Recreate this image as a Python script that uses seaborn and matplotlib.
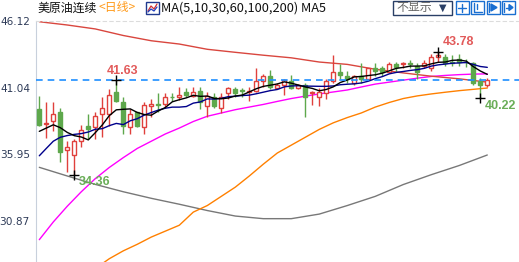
import numpy as np
import pandas as pd
import matplotlib
matplotlib.use("Agg")
import matplotlib.pyplot as plt
from matplotlib.patches import Rectangle
import seaborn as sns

# ---------------- data ----------------
opens = [39.37, 38.27, 38.5, 39.15, 36.3, 35.9, 37.0, 38.1, 38.0, 39.0,
         39.0, 40.7, 39.9, 38.0, 39.15, 38.0, 39.6, 39.8, 39.8, 40.33,
         40.3, 40.7, 40.4, 40.8, 39.6, 40.35, 39.5, 40.6, 40.9, 40.82,
         40.7, 40.8, 41.5, 41.9, 41.0, 41.2, 41.5, 41.0, 41.2, 40.65,
         40.35, 40.65, 41.5, 42.2, 41.95, 41.4, 41.95, 41.7, 42.55, 42.5,
         42.25, 42.85, 42.8, 42.9, 42.7, 42.7, 42.5, 43.4, 43.35, 43.0,
         43.2, 43.0, 42.9, 41.5, 41.25]
highs = [40.43, 39.9, 39.9, 39.5, 37.0, 37.1, 38.2, 39.0, 39.2, 40.3,
         40.9, 41.63, 40.35, 39.4, 39.2, 39.9, 40.2, 40.6, 40.6, 40.6,
         41.1, 41.0, 41.1, 41.1, 40.7, 40.6, 40.6, 41.1, 41.1, 41.0,
         41.1, 42.55, 42.1, 42.4, 41.4, 41.7, 42.0, 41.3, 41.4, 40.8,
         41.0, 41.7, 43.5, 42.8, 42.3, 42.0, 42.9, 42.55, 42.9, 42.7,
         43.0, 43.0, 43.0, 43.1, 42.9, 43.1, 43.6, 43.78, 43.6, 43.5,
         43.6, 43.2, 43.0, 41.8, 41.8]
lows = [38.11, 37.2, 37.7, 35.4, 34.6, 34.36, 36.5, 37.1, 37.1, 37.3,
        38.1, 39.9, 37.5, 37.5, 38.0, 37.5, 38.8, 39.2, 39.5, 40.0,
        40.1, 40.3, 40.3, 39.4, 38.8, 39.5, 39.1, 40.2, 40.3, 40.3,
        40.0, 40.7, 41.1, 40.95, 40.9, 40.5, 40.9, 40.9, 38.8, 39.7,
        39.6, 40.2, 41.4, 41.7, 41.4, 41.25, 41.4, 41.6, 41.9, 41.9,
        42.2, 42.25, 42.55, 42.5, 41.65, 42.5, 42.3, 42.95, 42.65, 42.7,
        42.7, 42.6, 41.25, 40.22, 41.1]
closes = [38.18, 38.31, 39.0, 36.1, 36.5, 36.95, 37.8, 37.9, 38.85, 39.45,
          40.5, 40.0, 38.1, 39.0, 38.1, 39.7, 39.75, 39.72, 40.3, 40.28,
          40.5, 40.45, 40.7, 39.9, 40.4, 39.6, 40.3, 41.0, 40.65, 40.78,
          40.8, 41.5, 41.9, 41.1, 41.25, 41.6, 41.0, 41.2, 40.35, 40.7,
          40.7, 41.5, 42.2, 42.0, 41.65, 41.9, 41.65, 42.55, 42.3, 42.25,
          42.8, 42.6, 42.9, 42.8, 42.25, 42.9, 43.35, 43.5, 42.9, 42.9,
          43.0, 42.95, 41.4, 41.25, 41.6]

# moving-average values for the first candles (window reaches before the view)
ma5_head = [37.7, 37.95, 38.2, 37.98]
ma10_head = [35.84, 36.4, 36.95, 37.25, 37.38, 37.47, 37.53, 37.65, 37.86]

# long moving averages
red_idx = [0, 4, 8, 12, 16, 20, 24, 28, 32, 36, 40, 44, 48, 52, 56, 60, 64]
ma_red = [46.05, 45.8, 45.5, 45.0, 44.6, 44.35, 43.95, 43.72, 43.5, 43.3,
          42.98, 42.8, 42.43, 42.15, 41.9, 41.7, 41.45]
gray_idx = [0, 4, 8, 12, 16, 20, 24, 28, 32, 36, 40, 44, 48, 52, 56, 60, 64]
ma_gray = [34.96, 34.3, 33.66, 33.1, 32.6, 32.15, 31.67, 31.25, 31.05, 31.05,
           31.4, 32.05, 32.75, 33.65, 34.4, 35.1, 35.9]
magenta_idx = list(range(0, 65, 2))
ma_magenta = [29.45, 30.8, 32.0, 33.1, 34.1, 34.95, 35.7, 36.4, 36.95, 37.5,
              37.95, 38.45, 38.85, 39.1, 39.35, 39.55, 39.75, 39.98, 40.2, 40.38,
              40.55, 40.7, 40.85, 41.08, 41.3, 41.45, 41.6, 41.75, 41.88, 41.96,
              42.02, 42.06, 42.08]
orange_idx = list(range(6, 65, 2))
ma_orange = [26.6, 27.25, 28.0, 28.6, 29.1, 29.65, 30.1, 30.55, 31.55, 32.05,
             32.75, 33.45, 34.3, 35.2, 36.05, 36.65, 37.25, 37.85, 38.35, 38.75,
             39.1, 39.55, 39.9, 40.2, 40.4, 40.55, 40.68, 40.8, 40.9, 41.0]

ytick_vals = [30.87, 35.95, 41.04, 46.12]
last_price = 41.6

marks_hi = [(11, 41.63), (57, 43.78)]
marks_lo = [(5, 34.36), (63, 40.22)]

# ---------------- figure ----------------
sns.set_style("white")
plt.rcParams['font.family'] = ['Noto Sans CJK SC', 'DejaVu Sans']

W, H = 519, 262
fig = plt.figure(figsize=(W / 100, H / 100), dpi=100)
top_px = 20.8
ax = fig.add_axes([35.5 / W, 0, (W - 35.5) / W, (H - top_px) / H])

n = len(closes)
idx = np.arange(n)
df = pd.DataFrame({"i": idx, "o": opens, "h": highs, "l": lows, "c": closes})

ma5 = df["c"].rolling(5).mean().to_numpy()
ma5[:4] = ma5_head
ma10 = df["c"].rolling(10).mean().to_numpy()
ma10[:9] = ma10_head

red_c = "#e0403c"
green_c = "#5ea84c"

# long MAs
for xs, vals, col in [(gray_idx, ma_gray, "#787878"),
                      (orange_idx, ma_orange, "#ff8000"),
                      (magenta_idx, ma_magenta, "#ff00ff"),
                      (red_idx, ma_red, "#d9463e")]:
    sns.lineplot(x=xs, y=vals, ax=ax, color=col, lw=1.0,
                 estimator=None, sort=False, zorder=2)

# candles
up = df["c"] >= df["o"]
body_lo = np.minimum(df["o"], df["c"])
body_hi = np.maximum(df["o"], df["c"])
for i in range(n):
    col = red_c if up[i] else green_c
    ax.vlines(i, lows[i], body_lo[i], color=col, lw=1.0, zorder=3)
    ax.vlines(i, body_hi[i], highs[i], color=col, lw=1.0, zorder=3)
    h = max(body_hi[i] - body_lo[i], 0.06)
    if up[i]:
        ax.bar(i, h, bottom=body_lo[i], width=0.62, color="white",
               edgecolor=col, linewidth=1.0, zorder=4)
    else:
        ax.bar(i, h, bottom=body_lo[i], width=0.62, color=col,
               edgecolor=col, linewidth=1.0, zorder=4)

# short MAs
sns.lineplot(x=idx, y=ma10, ax=ax, color="#00008b", lw=1.0,
             estimator=None, sort=False, zorder=5)
sns.lineplot(x=idx, y=ma5, ax=ax, color="black", lw=1.0,
             estimator=None, sort=False, zorder=6)

# last-price dashed line
ax.axhline(last_price, color="#1e8fff", lw=1.2, ls=(0, (4, 3)), zorder=7)

# high / low marks
for (i, v) in marks_hi + marks_lo:
    ax.plot(i, v, marker="+", color="black", ms=7, mew=1.0, zorder=8)
ax.text(9.6, 41.86, "41.63", color="#e25a5a", fontsize=9, fontweight="bold",
        family="Liberation Sans", ha="left", va="bottom", zorder=9)
ax.text(57.6, 44.07, "43.78", color="#e25a5a", fontsize=9, fontweight="bold",
        family="Liberation Sans", ha="left", va="bottom", zorder=9)
ax.text(63.6, 39.17, "40.22", color="#6aae58", fontsize=9, fontweight="bold",
        family="Liberation Sans", ha="left", va="bottom", zorder=9)
ax.text(5.6, 33.4, "34.36", color="#6aae58", fontsize=9, fontweight="bold",
        family="Liberation Sans", ha="left", va="bottom", zorder=9)

# axes limits, ticks
ax.set_xlim(-0.543, 68.53)
ax.set_ylim(27.75, 46.12)
ax.set_xticks([])
ax.set_yticks(ytick_vals)
ax.set_yticklabels([f"{v:.2f}" for v in ytick_vals], family="DejaVu Sans",
                   fontsize=7.6, color="#2e3b58")
step = (ytick_vals[1] - ytick_vals[0]) / 5
minor = [ytick_vals[0] + k * step for k in range(-3, 16)]
ax.set_yticks(minor, minor=True)
ax.tick_params(axis="y", which="major", length=3, width=0.8, color="#b8c2d0", pad=1)
ax.tick_params(axis="y", which="minor", length=3, width=0.8, color="#b8c2d0")
ax.set_xlabel("")
ax.set_ylabel("")
for s in ["right", "bottom"]:
    ax.spines[s].set_visible(False)
ax.spines["top"].set_visible(True)
ax.spines["top"].set_color("#dcdcdc")
ax.spines["top"].set_linestyle((0, (3, 3)))
ax.spines["top"].set_linewidth(0.8)
ax.spines["left"].set_color("#c8d0dc")
ax.spines["left"].set_linewidth(0.8)

# ---------------- header ----------------
def fx(x):
    return x / W

def fy(y):
    return 1 - y / H

fig.text(fx(37), fy(8), "美原油连续", fontsize=8.6, color="#111111",
         va="center", ha="left")
fig.text(fx(98.5), fy(8), "<日线>", fontsize=8.6, color="#ff9a1a",
         va="center", ha="left")
# small chart icon
fig.patches.append(Rectangle((fx(146), fy(14)), 13 / W, 12 / H,
                             transform=fig.transFigure, fill=True,
                             facecolor="white", edgecolor="#203a8f", lw=1.0))
fig.lines.append(plt.Line2D([fx(148), fx(151), fx(154), fx(157)],
                            [fy(11), fy(6), fy(9), fy(4)],
                            transform=fig.transFigure, color="#d03030", lw=0.9))
fig.lines.append(plt.Line2D([fx(148), fx(151), fx(154), fx(157)],
                            [fy(12), fy(9), fy(11), fy(7)],
                            transform=fig.transFigure, color="#2040c0", lw=0.9))
fig.text(fx(161), fy(8), "MA(5,10,30,60,100,200) MA5", fontsize=9.2,
         color="#111111", va="center", ha="left")

# "不显示▼" button
fig.patches.append(Rectangle((fx(392.5), fy(14.5)), 59.5 / W, 14 / H,
                             transform=fig.transFigure, fill=True,
                             facecolor="white", edgecolor="#2a3f66", lw=1.0))
fig.text(fx(396), fy(7.5), "不显示", fontsize=8.6, color="#666666",
         va="center", ha="left")
fig.text(fx(439), fy(7.5), "▼", fontsize=7, color="#2a3f66",
         va="center", ha="left", family=["DejaVu Sans"])

# toolbar icons
for x0 in [455.5, 471, 486.5, 502]:
    fig.patches.append(Rectangle((fx(x0), fy(14)), 13 / W, 13 / H,
                                 transform=fig.transFigure, fill=True,
                                 facecolor="white", edgecolor="#1a6fd1", lw=1.0))
# icon glyphs
fig.lines.append(plt.Line2D([fx(458), fx(466)], [fy(7.5), fy(7.5)],
                            transform=fig.transFigure, color="#1a6fd1", lw=1.0))
fig.lines.append(plt.Line2D([fx(462), fx(462)], [fy(3.5), fy(11.5)],
                            transform=fig.transFigure, color="#1a6fd1", lw=1.0))
fig.lines.append(plt.Line2D([fx(474), fx(474), fx(482)], [fy(3), fy(11.5), fy(11.5)],
                            transform=fig.transFigure, color="#1a6fd1", lw=1.0))
fig.lines.append(plt.Line2D([fx(477), fx(477)], [fy(4), fy(9)],
                            transform=fig.transFigure, color="#1a6fd1", lw=1.0))
fig.lines.append(plt.Line2D([fx(489), fx(489)], [fy(3), fy(12)],
                            transform=fig.transFigure, color="#1a6fd1", lw=1.0))
fig.patches.append(plt.Polygon([(fx(491), fy(4)), (fx(491), fy(11)), (fx(497), fy(7.5))],
                               closed=True, transform=fig.transFigure,
                               facecolor="#1a6fd1", edgecolor="#1a6fd1"))
fig.lines.append(plt.Line2D([fx(504), fx(504)], [fy(3), fy(12)],
                            transform=fig.transFigure, color="#1a6fd1", lw=1.0))
fig.lines.append(plt.Line2D([fx(506), fx(510)], [fy(7.5), fy(7.5)],
                            transform=fig.transFigure, color="#1a6fd1", lw=1.0))
fig.patches.append(plt.Polygon([(fx(509), fy(4.5)), (fx(509), fy(10.5)), (fx(513), fy(7.5))],
                               closed=True, transform=fig.transFigure,
                               facecolor="#1a6fd1", edgecolor="#1a6fd1"))

fig.savefig("out.png", dpi=100)
